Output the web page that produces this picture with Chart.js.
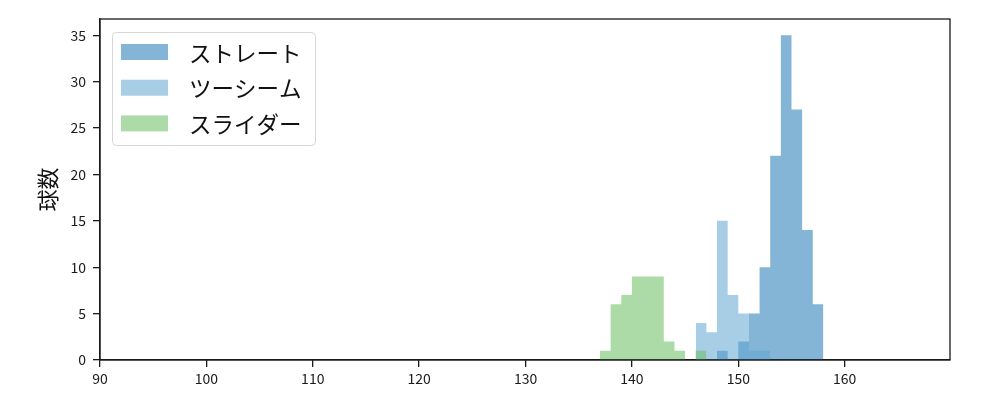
<!DOCTYPE html>
<html>
<head>
<meta charset="utf-8">
<script src="https://cdn.jsdelivr.net/npm/chart.js@4/dist/chart.umd.min.js"></script>
<style>
  html, body { margin:0; padding:0; background:#fff; }
  #wrap { width:1000px; height:400px; }
</style>
</head>
<body>
<div id="wrap"><canvas id="chart" width="1000" height="400"></canvas></div>
<script>
// ── データ（1 km/h 刻みのビン：左端の値と球数） ──────────────────────────────
const seriesNames   = ['ストレート', 'ツーシーム', 'スライダー'];
const straightStart = [148, 149, 150, 151, 152, 153, 154, 155, 156, 157];
const straightCount = [1, 0, 2, 5, 10, 22, 35, 27, 14, 6];
const twoSeamStart  = [146, 147, 148, 149, 150, 151, 152];
const twoSeamCount  = [4, 3, 15, 7, 5, 1, 1];
const sliderStart   = [137, 138, 139, 140, 141, 142, 143, 144, 145, 146];
const sliderCount   = [1, 6, 7, 9, 9, 9, 2, 1, 0, 1];
const xTicks = [90, 100, 110, 120, 130, 140, 150, 160];
const yTicks = [0, 5, 10, 15, 20, 25, 30, 35];

const colors = ['rgba(31,119,180,0.55)', 'rgba(97,166,210,0.55)', 'rgba(106,190,97,0.55)'];
const FONT = '"Noto Sans CJK JP", "Noto Sans", sans-serif';
const AXIS = '#1a1a1a';

// ヒストグラムを階段状の塗りつぶしで描く（ビン同士の継ぎ目が出ないように）
function histPoints(starts, counts) {
  const pts = starts.map((s, i) => ({ x: s, y: counts[i] }));
  pts.push({ x: starts[starts.length - 1] + 1, y: 0 });
  return pts;
}
const histBase = { stepped: 'before', fill: 'origin', borderWidth: 0, pointRadius: 0, tension: 0 };

// 枠線（上・右）と凡例
const frameLegend = {
  id: 'frameLegend',
  afterDraw(chart) {
    const { ctx, chartArea: a } = chart;
    ctx.save();
    ctx.strokeStyle = AXIS; ctx.lineWidth = 1.3;
    ctx.strokeRect(a.left, a.top, a.right - a.left, a.bottom - a.top);

    const bx = 112.5, by = 32.5, bw = 203, bh = 113, r = 4;
    ctx.beginPath();
    ctx.moveTo(bx + r, by); ctx.lineTo(bx + bw - r, by); ctx.arcTo(bx + bw, by, bx + bw, by + r, r);
    ctx.lineTo(bx + bw, by + bh - r); ctx.arcTo(bx + bw, by + bh, bx + bw - r, by + bh, r);
    ctx.lineTo(bx + r, by + bh); ctx.arcTo(bx, by + bh, bx, by + bh - r, r);
    ctx.lineTo(bx, by + r); ctx.arcTo(bx, by, bx + r, by, r); ctx.closePath();
    ctx.fillStyle = 'rgba(255,255,255,0.8)'; ctx.fill();
    ctx.strokeStyle = '#d6d6d6'; ctx.lineWidth = 1; ctx.stroke();

    ctx.font = '22.5px ' + FONT; ctx.textBaseline = 'middle'; ctx.textAlign = 'left';
    seriesNames.forEach((name, i) => {
      const cy = 52 + i * 35.7;
      ctx.fillStyle = colors[i];
      ctx.fillRect(121, cy - 8, 47, 16);
      ctx.fillStyle = '#111';
      ctx.fillText(name, 189, cy + 1);
    });
    ctx.restore();
  }
};

new Chart(document.getElementById('chart'), {
  type: 'line',
  data: {
    datasets: [
      { ...histBase, label: seriesNames[0], data: histPoints(straightStart, straightCount), backgroundColor: colors[0], order: 2 },
      { ...histBase, label: seriesNames[1], data: histPoints(twoSeamStart, twoSeamCount), backgroundColor: colors[1], order: 1 },
      { ...histBase, label: seriesNames[2], data: histPoints(sliderStart, sliderCount), backgroundColor: colors[2], order: 0 },
    ]
  },
  options: {
    responsive: false, animation: false,
    layout: { padding: { left: 0, right: 50, top: 19, bottom: 0 } },
    plugins: { legend: { display: false }, tooltip: { enabled: false } },
    scales: {
      x: {
        type: 'linear', min: 90, max: 169.9,
        afterFit: s => { s.height = 40; },
        afterBuildTicks: s => { s.ticks = xTicks.map(v => ({ value: v })); },
        grid: { offset: false, drawOnChartArea: false, drawTicks: true, tickLength: 7, color: AXIS, lineWidth: 1.3 },
        border: { display: true, color: AXIS, width: 1.3 },
        ticks: { color: AXIS, font: { family: FONT, size: 14 }, padding: 3, maxRotation: 0 }
      },
      y: {
        type: 'linear', min: 0, max: 36.75,
        afterFit: s => { s.width = 100; },
        afterBuildTicks: s => { s.ticks = yTicks.map(v => ({ value: v })); },
        grid: { drawOnChartArea: false, drawTicks: true, tickLength: 7, color: AXIS, lineWidth: 1.3 },
        border: { display: true, color: AXIS, width: 1.3 },
        ticks: { color: AXIS, font: { family: FONT, size: 14 }, padding: 7 },
        title: { display: true, text: '球数', color: '#111', font: { family: FONT, size: 22 }, padding: { top: 34, bottom: 0 } }
      }
    }
  },
  plugins: [frameLegend]
});
</script>
</body>
</html>
